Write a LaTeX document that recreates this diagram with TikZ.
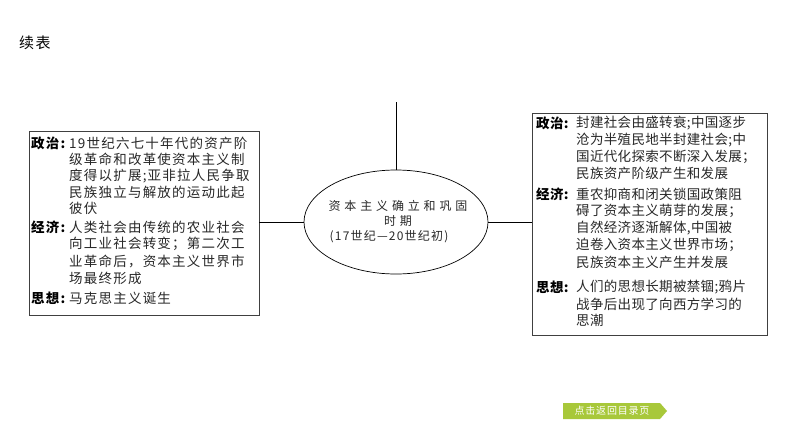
\documentclass[tikz,border=0pt]{standalone}
\usepackage{fontspec}
\usetikzlibrary{shapes.geometric}
\setmainfont{Noto Sans CJK SC}
\newfontfamily\cjkleft[LetterSpace=9]{Noto Sans CJK SC}
\newfontfamily\cjkright[LetterSpace=2.5]{Noto Sans CJK SC}
\newfontfamily\cjkcore[LetterSpace=32]{Noto Sans CJK SC}
\newfontfamily\cjkdate[LetterSpace=10]{Noto Sans CJK SC}
\newfontfamily\cjkbtn[LetterSpace=8]{Noto Sans CJK SC}
\definecolor{btngreen}{RGB}{168,200,58}
\definecolor{ink}{RGB}{40,40,40}

\begin{document}
\begin{tikzpicture}[x=1pt,y=-1pt,
  box/.style={draw=black!75,line width=1pt,inner sep=0pt},
  link/.style={black,line width=0.8pt},
  ltxt/.style={anchor=west,inner sep=0pt,text=ink,font=\cjkleft\fontsize{13.5}{15}\selectfont},
  llbl/.style={anchor=west,inner sep=0pt,text=black,font=\cjkleft\bfseries\fontsize{13.5}{15}\selectfont},
  rtxt/.style={anchor=west,inner sep=0pt,text=ink,font=\cjkright\fontsize{13.5}{15}\selectfont},
  rlbl/.style={anchor=west,inner sep=0pt,text=black,font=\cjkright\bfseries\fontsize{13.5}{15}\selectfont}]
\useasboundingbox (0,0) rectangle (794,447);
\fill[white] (0,0) rectangle (794,447);

\node[anchor=west,inner sep=0pt,font=\cjkleft\fontsize{15}{17}\selectfont] (title) at (19,43) {续表};

% centre
\node[draw,ellipse,line width=0.7pt,minimum width=184pt,minimum height=104pt,inner sep=0pt] (core) at (396,222) {};
\node[align=center,inner sep=0pt,text=ink,font=\fontsize{12}{15}\selectfont] (coretxt) at ([xshift=2pt]core.center)
  {{\cjkcore 资本主义确立和巩固}\\{\cjkcore 时期}\\{\cjkdate (17世纪—20世纪初)}\hspace*{18pt}};
\coordinate (stem) at (396,102);
\draw[link] (core.north) -- (stem);

% boxes
\node[box,minimum width=230pt,minimum height=184pt] (lbox) at (144,223) {};
\node[box,minimum width=235pt,minimum height=222pt] (rbox) at (649.5,224) {};
\draw[link] (lbox.east) -- (core.west -| lbox.east) -- (core.west);
\draw[link] (core.east) -- (core.east -| rbox.west);

% left box
\node[llbl] (lzz) at (31,143) {政治:};
\node[ltxt] (lzz1) at (69,143) {19世纪六七十年代的资产阶};
\node[ltxt] (lzz2) at (69,159.5) {级革命和改革使资本主义制};
\node[ltxt] (lzz3) at (69,176) {度得以扩展;亚非拉人民争取};
\node[ltxt] (lzz4) at (69,192) {民族独立与解放的运动此起};
\node[ltxt] (lzz5) at (69,208.5) {彼伏};
\node[llbl] (ljj) at (31,227) {经济:};
\node[ltxt] (ljj1) at (69,227) {人类社会由传统的农业社会};
\node[ltxt] (ljj2) at (69,244) {向工业社会转变；第二次工};
\node[ltxt] (ljj3) at (69,261) {业革命后，资本主义世界市};
\node[ltxt] (ljj4) at (69,278) {场最终形成};
\node[llbl] (lsx) at (31,298) {思想:};
\node[ltxt] (lsx1) at (69,298) {马克思主义诞生};

% right box
\node[rlbl] (rzz) at (536,123) {政治:};
\node[rtxt] (rzz1) at (576,123) {封建社会由盛转衰;中国逐步};
\node[rtxt] (rzz2) at (576,140) {沧为半殖民地半封建社会;中};
\node[rtxt] (rzz3) at (576,156.5) {国近代化探索不断深入发展；};
\node[rtxt] (rzz4) at (576,173) {民族资产阶级产生和发展};
\node[rlbl] (rjj) at (536,194) {经济:};
\node[rtxt] (rjj1) at (576,194) {重农抑商和闭关锁国政策阻};
\node[rtxt] (rjj2) at (576,211) {碍了资本主义萌芽的发展；};
\node[rtxt] (rjj3) at (576,228) {自然经济逐渐解体,中国被};
\node[rtxt] (rjj4) at (576,245) {迫卷入资本主义世界市场；};
\node[rtxt] (rjj5) at (576,262) {民族资本主义产生并发展};
\node[rlbl] (rsx) at (536,287) {思想:};
\node[rtxt] (rsx1) at (576,287) {人们的思想长期被禁锢;鸦片};
\node[rtxt] (rsx2) at (576,304) {战争后出现了向西方学习的};
\node[rtxt] (rsx3) at (576,320) {思潮};

% back button
\fill[btngreen] (563,403) -- (660,403) -- (667,411) -- (660,419) -- (563,419) -- cycle;
\node[inner sep=0pt,text=white,font=\cjkbtn\fontsize{10}{12}\selectfont] (back) at (612,411) {点击返回目录页};
\end{tikzpicture}
\end{document}
